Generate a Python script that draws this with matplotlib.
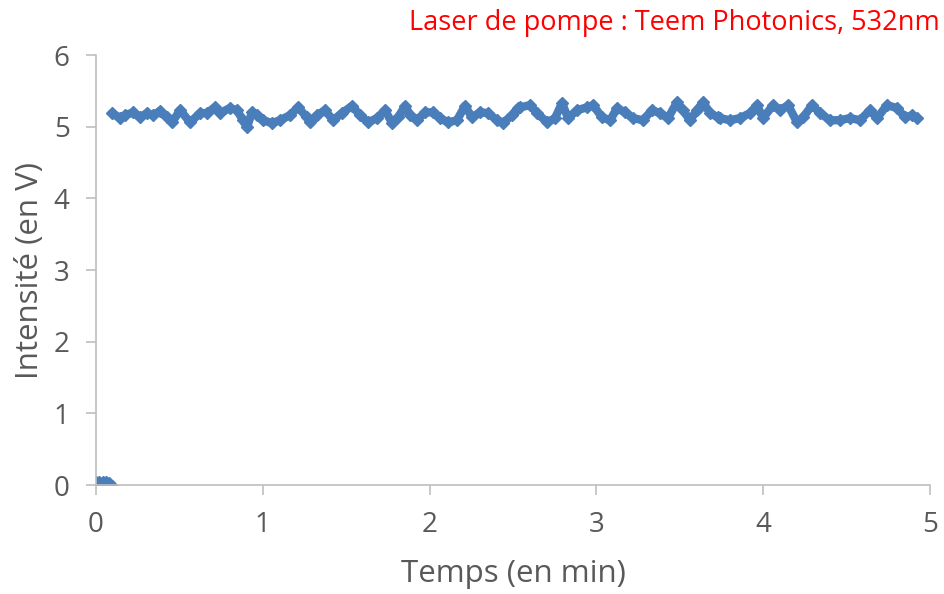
import matplotlib
matplotlib.use('Agg')
import matplotlib.pyplot as plt

plt.rcParams['font.family'] = ['Open Sans', 'DejaVu Sans']

# mesures avant allumage du laser (en min, en V)
t_off = [0.0, 0.02, 0.04, 0.06, 0.08, 0.095]
v_off = [0.04, 0.04, 0.04, 0.04, 0.03, -0.02]

# mesures laser allumé
t_on = [0.096, 0.144, 0.174, 0.222, 0.264, 0.306, 0.342, 0.384, 0.426, 0.456,
        0.504, 0.564, 0.624, 0.665, 0.713, 0.743, 0.803, 0.845, 0.881, 0.905,
        0.935, 0.965, 1.001, 1.055, 1.103, 1.163, 1.211, 1.265, 1.283, 1.325,
        1.373, 1.421, 1.475, 1.535, 1.583, 1.631, 1.685, 1.733, 1.775, 1.811,
        1.853, 1.883, 1.924, 1.972, 2.020, 2.062, 2.110, 2.164, 2.212, 2.254,
        2.302, 2.350, 2.404, 2.440, 2.494, 2.530, 2.542, 2.602, 2.644, 2.704,
        2.752, 2.794, 2.830, 2.884, 2.944, 2.980, 3.034, 3.082, 3.124, 3.171,
        3.219, 3.279, 3.333, 3.381, 3.429, 3.483, 3.519, 3.561, 3.603, 3.639,
        3.681, 3.729, 3.741, 3.801, 3.861, 3.921, 3.963, 3.999, 4.059, 4.101,
        4.149, 4.203, 4.239, 4.293, 4.341, 4.400, 4.460, 4.520, 4.580, 4.640,
        4.682, 4.742, 4.802, 4.850, 4.892, 4.922]
v_on = [5.19, 5.12, 5.16, 5.20, 5.13, 5.19, 5.16, 5.22, 5.13, 5.06,
        5.23, 5.06, 5.19, 5.19, 5.27, 5.19, 5.26, 5.23, 5.09, 4.99,
        5.20, 5.16, 5.09, 5.05, 5.09, 5.16, 5.27, 5.13, 5.06, 5.16,
        5.23, 5.09, 5.19, 5.29, 5.16, 5.06, 5.12, 5.23, 5.05, 5.13,
        5.29, 5.16, 5.09, 5.20, 5.20, 5.12, 5.06, 5.09, 5.29, 5.13,
        5.20, 5.19, 5.09, 5.05, 5.16, 5.26, 5.27, 5.30, 5.19, 5.06,
        5.12, 5.33, 5.12, 5.23, 5.27, 5.30, 5.13, 5.09, 5.26, 5.20,
        5.12, 5.09, 5.23, 5.19, 5.12, 5.34, 5.23, 5.09, 5.23, 5.34,
        5.19, 5.13, 5.12, 5.09, 5.12, 5.19, 5.30, 5.12, 5.30, 5.23,
        5.30, 5.06, 5.13, 5.30, 5.19, 5.09, 5.09, 5.12, 5.09, 5.23,
        5.12, 5.30, 5.26, 5.13, 5.16, 5.12]

bleu = '#4a7ebb'
gris = '#595959'

fig = plt.figure(figsize=(9.44, 5.94), dpi=100)
ax = fig.add_axes([0.1017, 0.1835, 0.8835, 0.7239])

ax.plot(t_off, v_off, color=bleu, lw=6, marker='D', ms=6,
        solid_joinstyle='round', solid_capstyle='round')
ax.plot(t_on, v_on, color=bleu, lw=6, marker='D', ms=6,
        solid_joinstyle='round', solid_capstyle='round')

ax.set_xlim(0, 5)
ax.set_ylim(0, 6)
ax.set_xticks(range(6))
ax.set_yticks(range(7))

for s in ['top', 'right']:
    ax.spines[s].set_visible(False)
for s in ['left', 'bottom']:
    ax.spines[s].set_color('#bfbfbf')
    ax.spines[s].set_linewidth(1.2)
ax.tick_params(direction='out', length=7, width=1.2, color='#bfbfbf',
               labelsize=20, labelcolor=gris, pad=12)

ax.set_xlabel('Temps (en min)', fontsize=22.5, color=gris, labelpad=14)
ax.set_ylabel('Intensité (en V)', fontsize=22.5, color=gris, labelpad=6)

fig.text(0.996, 0.985, 'Laser de pompe : Teem Photonics, 532nm', color='red',
         fontsize=19.5, ha='right', va='top')

fig.savefig('out.png', dpi=100)
